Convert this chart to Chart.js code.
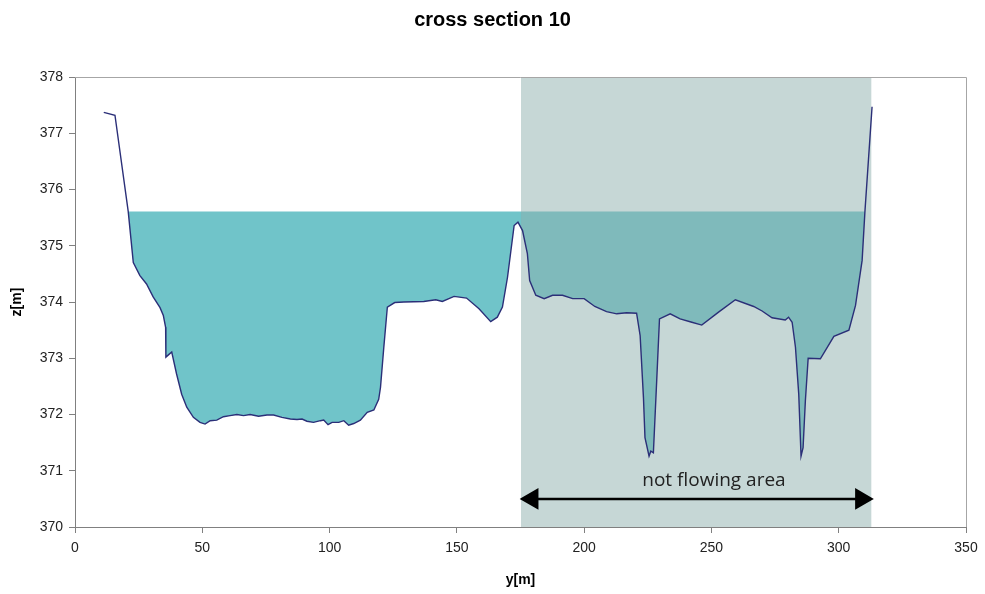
<!DOCTYPE html>
<html>
<head>
<meta charset="utf-8">
<script src="https://cdn.jsdelivr.net/npm/chart.js@4/dist/chart.umd.min.js"></script>
<style>
    html, body { margin: 0; padding: 0; background: #ffffff; }
    #wrap { width: 985px; height: 594px; }
</style>
</head>
<body>
<div id="wrap"><canvas id="myChart" width="985" height="594"></canvas></div>
<script>
// Profile of the cross section: distance y [m] and bed level z [m]
const profilY = [11.3, 15.7, 20.9, 22.9, 25.5, 28.1, 30.7, 33.4, 34.7, 35.6, 35.7, 36.7, 38.0, 39.9, 41.9, 43.9,
    46.5, 49.1, 51.1, 53.1, 55.7, 58.3, 60.9, 63.6, 66.2, 68.8, 72.1, 75.4, 78.0, 81.3, 84.6, 87.2, 89.2,
    91.1, 93.7, 96.4, 97.7, 99.4, 101.0, 103.6, 105.6, 107.5, 109.5, 112.1, 114.8, 117.4, 119.3, 120.0,
    121.3, 122.7, 125.6, 129.2, 137.0, 141.7, 144.3, 148.9, 153.8, 158.7, 163.3, 165.9, 167.9, 169.9,
    172.5, 174.0, 175.8, 177.7, 178.6, 181.0, 184.3, 187.6, 191.5, 195.5, 200.0, 204.2, 208.8, 212.8,
    216.7, 220.6, 222.0, 223.3, 223.9, 225.5, 226.2, 227.2, 228.5, 229.6, 233.8, 237.7, 242.3, 246.2,
    252.8, 259.4, 266.6, 269.9, 273.8, 279.0, 280.3, 281.7, 283.0, 284.3, 285.2, 286.0, 286.9, 288.0,
    292.8, 298.1, 304.0, 306.6, 309.2, 310.3, 313.1];
const profilZ = [377.37, 377.32, 375.61, 374.70, 374.47, 374.32, 374.09, 373.90, 373.76, 373.55, 373.02, 373.06,
    373.11, 372.72, 372.36, 372.13, 371.95, 371.86, 371.83, 371.89, 371.90, 371.96, 371.98, 372.00, 371.98,
    372.00, 371.97, 371.99, 371.99, 371.95, 371.92, 371.91, 371.92, 371.88, 371.86, 371.89, 371.90, 371.82,
    371.86, 371.86, 371.89, 371.81, 371.84, 371.90, 372.04, 372.08, 372.27, 372.48, 373.19, 373.91, 373.99,
    374.00, 374.01, 374.04, 374.01, 374.10, 374.07, 373.88, 373.65, 373.73, 373.91, 374.44, 375.36, 375.42,
    375.27, 374.86, 374.38, 374.12, 374.06, 374.12, 374.12, 374.06, 374.06, 373.92, 373.83, 373.79, 373.81,
    373.80, 373.40, 372.30, 371.59, 371.26, 371.35, 371.32, 372.60, 373.70, 373.79, 373.70, 373.64, 373.59,
    373.82, 374.04, 373.92, 373.84, 373.72, 373.68, 373.73, 373.64, 373.20, 372.36, 371.26, 371.41, 372.24,
    373.00, 372.99, 373.39, 373.50, 373.94, 374.74, 375.61, 377.47];

// Water level and where it meets the banks
const niveauEau = 375.61;
const eauDebut = 20.9;
const eauFin = 310.3;

// Not flowing area (grey zone) and its arrow
const zoneMorte = [175.2, 312.9];
const flecheY = [179.6, 308.9];
const flecheZ = [370.5, 370.5];
const texteZone = "not flowing area";
const texteY = 251.0;
const texteZ = 370.82;

// Axis ticks
const ticksY = [0, 50, 100, 150, 200, 250, 300, 350];
const ticksZ = [370, 371, 372, 373, 374, 375, 376, 377, 378];

// Build point lists for Chart.js
const profil = profilY.map((y, i) => ({ x: y, y: profilZ[i] }));
const eau = profil.filter(p => p.x >= eauDebut && p.x <= eauFin);
const zone = [{ x: zoneMorte[0], y: ticksZ[ticksZ.length - 1] }, { x: zoneMorte[1], y: ticksZ[ticksZ.length - 1] }];
const fleche = flecheY.map((y, i) => ({ x: y, y: flecheZ[i] }));

// Plugin: grey frame round the plot area and the label of the zone
const cadre = {
    id: 'cadre',
    afterDraw(chart) {
        const ctx = chart.ctx;
        const a = chart.chartArea;
        ctx.save();
        ctx.strokeStyle = '#a6a6a6';
        ctx.lineWidth = 1;
        ctx.beginPath();
        ctx.moveTo(a.left, a.top + 0.5);
        ctx.lineTo(a.right + 0.5, a.top + 0.5);
        ctx.lineTo(a.right + 0.5, a.bottom);
        ctx.stroke();
        // label above the arrow
        ctx.fillStyle = '#222222';
        ctx.font = '19px "Open Sans", sans-serif';
        ctx.textAlign = 'center';
        ctx.textBaseline = 'middle';
        ctx.fillText(texteZone, chart.scales.x.getPixelForValue(texteY), chart.scales.y.getPixelForValue(texteZ));
        ctx.restore();
    }
};

const ctx = document.getElementById('myChart').getContext('2d');

myChart = new Chart(ctx, {
    type: 'line',
    data: {
        datasets: [
            {
                // bed profile
                data: profil,
                borderColor: '#2b2f78',
                borderWidth: 1.4,
                pointRadius: 0,
                fill: false,
                tension: 0
            },
            {
                // arrow of the not flowing area
                data: fleche,
                borderColor: '#000000',
                backgroundColor: '#000000',
                borderWidth: 2.5,
                pointStyle: 'triangle',
                pointRadius: 10,
                pointRotation: [-90, 90],
                fill: false
            },
            {
                // grey zone, drawn over the water
                data: zone,
                borderWidth: 0,
                pointRadius: 0,
                backgroundColor: 'rgba(141,175,173,0.5)',
                fill: { value: ticksZ[0] }
            },
            {
                // water up to the level
                data: eau,
                borderWidth: 0,
                pointRadius: 0,
                backgroundColor: '#70c4c9',
                fill: { value: niveauEau }
            }
        ]
    },
    options: {
        responsive: false,
        animation: false,
        layout: { padding: 0 },
        plugins: {
            legend: { display: false },
            tooltip: { enabled: false },
            title: {
                display: true,
                text: 'cross section 10',
                color: '#000000',
                font: { family: '"Liberation Sans", Arial, sans-serif', size: 20, weight: 'bold' },
                padding: { top: 8, bottom: 45 }
            }
        },
        scales: {
            x: {
                type: 'linear',
                min: ticksY[0],
                max: ticksY[ticksY.length - 1],
                afterBuildTicks: scale => { scale.ticks = ticksY.map(v => ({ value: v })); },
                afterFit: scale => { scale.height = 67; },
                grid: { display: true, drawOnChartArea: false, tickLength: 6, color: '#808080' },
                border: { color: '#808080' },
                ticks: { color: '#222222', padding: 7, maxRotation: 0, font: { family: '"Liberation Sans", Arial, sans-serif', size: 14 } },
                title: {
                    display: true,
                    text: 'y[m]',
                    color: '#000000',
                    padding: { top: 0, bottom: 5 },
                    font: { family: '"Liberation Sans", Arial, sans-serif', size: 14, weight: 'bold' }
                }
            },
            y: {
                type: 'linear',
                min: ticksZ[0],
                max: ticksZ[ticksZ.length - 1],
                afterBuildTicks: scale => { scale.ticks = ticksZ.map(v => ({ value: v })); },
                afterFit: scale => { scale.width = 75; },
                grid: { display: true, drawOnChartArea: false, tickLength: 6, color: '#808080' },
                border: { color: '#808080' },
                ticks: { color: '#222222', padding: 6, font: { family: '"Liberation Sans", Arial, sans-serif', size: 14 } },
                title: {
                    display: true,
                    text: 'z[m]',
                    color: '#000000',
                    padding: { top: 9, bottom: 0 },
                    font: { family: '"Liberation Sans", Arial, sans-serif', size: 14, weight: 'bold' }
                }
            },
            droite: {
                // empty scale only to keep the right margin
                type: 'linear',
                position: 'right',
                display: true,
                afterFit: scale => { scale.width = 19; },
                grid: { display: false },
                border: { display: false },
                ticks: { display: false }
            }
        }
    },
    plugins: [cadre]
});
</script>
</body>
</html>
